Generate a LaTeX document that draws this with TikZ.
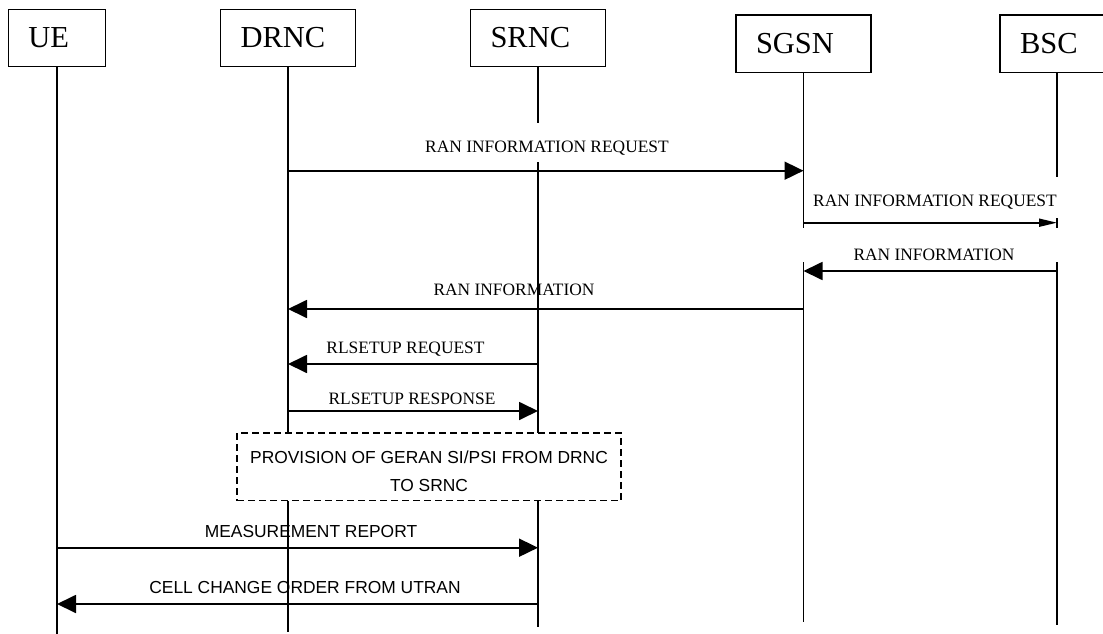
\documentclass[tikz,border=0pt]{standalone}
\usepackage{fontspec}
\setmainfont{Liberation Serif}
\setsansfont{Liberation Sans}
\usetikzlibrary{arrows.meta}

\begin{document}
\begin{tikzpicture}[x=1pt, y=-1pt,
    entity/.style={draw, line width=1.4pt, minimum height=57.4pt, inner xsep=20pt, text width=#1, align=left, font=\fontsize{30.5}{34}\selectfont},
    lifeline/.style={line width=1.4pt},
    msg/.style={line width=1.8pt, -{Triangle[length=19pt, width=18pt]}},
    msgsmall/.style={line width=1.8pt, -{Triangle[length=18pt, width=8pt]}},
    lbl/.style={anchor=base, inner sep=0pt, font=\fontsize{17.4}{20}\selectfont},
    slbl/.style={lbl, font=\sffamily\fontsize{17.4}{20}\selectfont},
    mask/.style={fill=white, inner xsep=6pt, inner ysep=0pt}]
      \useasboundingbox (0,0) rectangle (1103,634);

      % Nodes
      \node[entity=57.4pt] (ue)   at (57,38)      {UE};
      \node[entity=95pt]   (drnc) at (288,38)     {DRNC};
      \node[entity=95pt]   (srnc) at (538,38)     {SRNC};
      \node[entity=95pt]   (sgsn) at (803.5,43.8) {SGSN};
      \node[entity=74pt]   (bsc)  at (1057,43.8)  {BSC};

      % Lifelines
      \coordinate (ue-end)   at (57,634);
      \coordinate (drnc-end) at (288,632);
      \coordinate (srnc-end) at (538,627);
      \coordinate (sgsn-end) at (803.5,622);
      \coordinate (bsc-end)  at (1057,625);
      \foreach \n in {ue,drnc,srnc,sgsn,bsc}
        \draw[lifeline] (\n) -- (\n-end);

      % Labels
      \node[lbl, mask, text height=29.7pt, text depth=9.3pt] (lreq1) at (547,152.7) {RAN INFORMATION REQUEST};
      \node[lbl, mask, text height=29.7pt, text depth=11.3pt] (lreq2) at (935,206.7) {RAN INFORMATION REQUEST};
      \node[lbl, mask, minimum width=270pt, text height=32pt, text depth=2pt] (linfo1) at (934,260) {RAN INFORMATION};
      \node[lbl] (linfo2) at (514,295) {RAN INFORMATION};
      \node[lbl] (lrlreq) at (405.5,353.3) {RLSETUP REQUEST};
      \node[lbl] (lrlrsp) at (412,404.3) {RLSETUP RESPONSE};
      \node[draw, dash pattern=on 7pt off 4pt, line width=1.4pt, fill=white, minimum width=384pt, minimum height=67.7pt,
            align=center, font=\sffamily\fontsize{17.4}{28.3}\selectfont] (prov) at (429,466.9)
            {\rule{0pt}{21pt}PROVISION OF GERAN SI/PSI FROM DRNC\\TO SRNC};
      \node[slbl] (lmeas) at (311,537.7) {MEASUREMENT REPORT};
      \node[slbl] (lcco) at (305,593.3) {CELL CHANGE ORDER FROM UTRAN};

      % Messages
      \draw[msg] (drnc |- 0,170.7) -- (sgsn |- 0,170.7);
      \draw[msgsmall] (sgsn |- 0,222.7) -- (bsc |- 0,222.7);
      \draw[msg] (bsc |- 0,271) -- (sgsn |- 0,271);
      \draw[msg] (sgsn |- 0,309) -- (drnc |- 0,309);
      \draw[msg] (srnc |- 0,364) -- (drnc |- 0,364);
      \draw[msg] (drnc |- 0,411) -- (srnc |- 0,411);
      \draw[msg] (ue |- 0,547.7) -- (srnc |- 0,547.7);
      \draw[msg] (srnc |- 0,604) -- (ue |- 0,604);
    \end{tikzpicture}
\end{document}
